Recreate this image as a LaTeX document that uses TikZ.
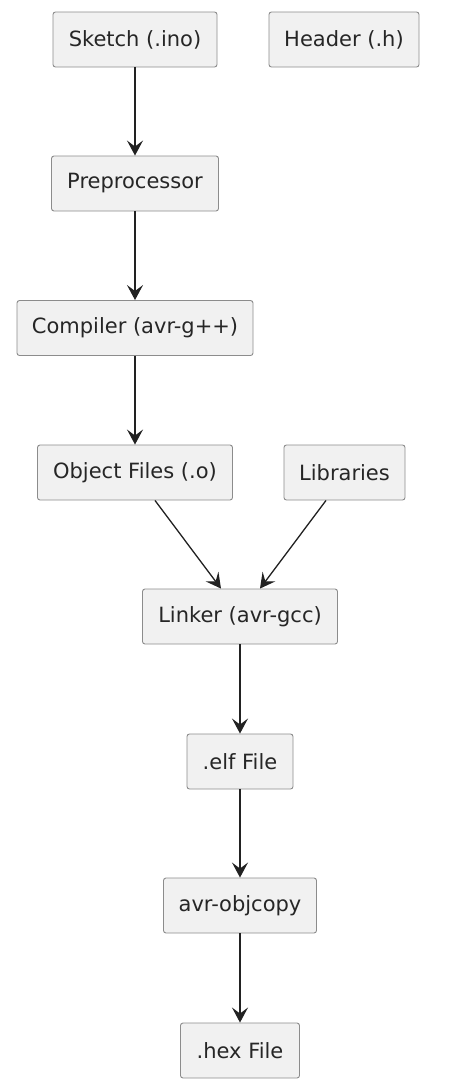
\documentclass[tikz,border=0pt]{standalone}
\usepackage{fontspec}
\setmainfont{DejaVu Sans}
\usetikzlibrary{arrows.meta}
\definecolor{boxfill}{HTML}{F1F1F1}
\definecolor{boxline}{HTML}{8C8C8C}
\definecolor{arrowcol}{HTML}{222222}
\begin{document}
\begin{tikzpicture}[x=1pt,y=-1pt,
  box/.style={draw=boxline, fill=boxfill, rounded corners=2.5pt, line width=0.9pt,
    inner sep=0pt, minimum height=55pt, font=\fontsize{21}{25}\selectfont, text=black!85},
  flow/.style={draw=arrowcol, line width=1.3pt,
    -{Stealth[length=15pt,width=16pt,inset=6pt]}}]
\useasboundingbox (0,0) rectangle (466,1090);
\node[box, minimum width=164pt] (sketch) at (135,39.5) {Sketch (.ino)};
\node[box, minimum width=150pt] (header) at (344,39.5) {Header (.h)};
\node[box, minimum width=167pt] (pre) at (135,183.5) {Preprocessor};
\node[box, minimum width=236pt] (comp) at (135,328) {Compiler (avr-g++)};
\node[box, minimum width=195pt] (obj) at (135,472.5) {Object Files (.o)};
\node[box, minimum width=121pt] (lib) at (344.5,472.5) {Libraries};
\node[box, minimum width=195pt] (link) at (240,616.5) {Linker (avr-gcc)};
\node[box, minimum width=106pt] (elf) at (240,761.5) {.elf File};
\node[box, minimum width=153pt] (objcopy) at (240,905.5) {avr-objcopy};
\node[box, minimum width=119pt] (hex) at (240,1050.5) {.hex File};
\coordinate (o1) at ([xshift=20pt]obj.south);
\coordinate (l1) at ([xshift=-19pt]link.north);
\coordinate (b1) at ([xshift=-18.5pt]lib.south);
\coordinate (l2) at ([xshift=20pt]link.north);
\draw[flow] (sketch) -- (pre);
\draw[flow] (pre) -- (comp);
\draw[flow] (comp) -- (obj);
\draw[flow] (o1) -- (l1);
\draw[flow] (b1) -- (l2);
\draw[flow] (link) -- (elf);
\draw[flow] (elf) -- (objcopy);
\draw[flow] (objcopy) -- (hex);
\end{tikzpicture}
\end{document}
